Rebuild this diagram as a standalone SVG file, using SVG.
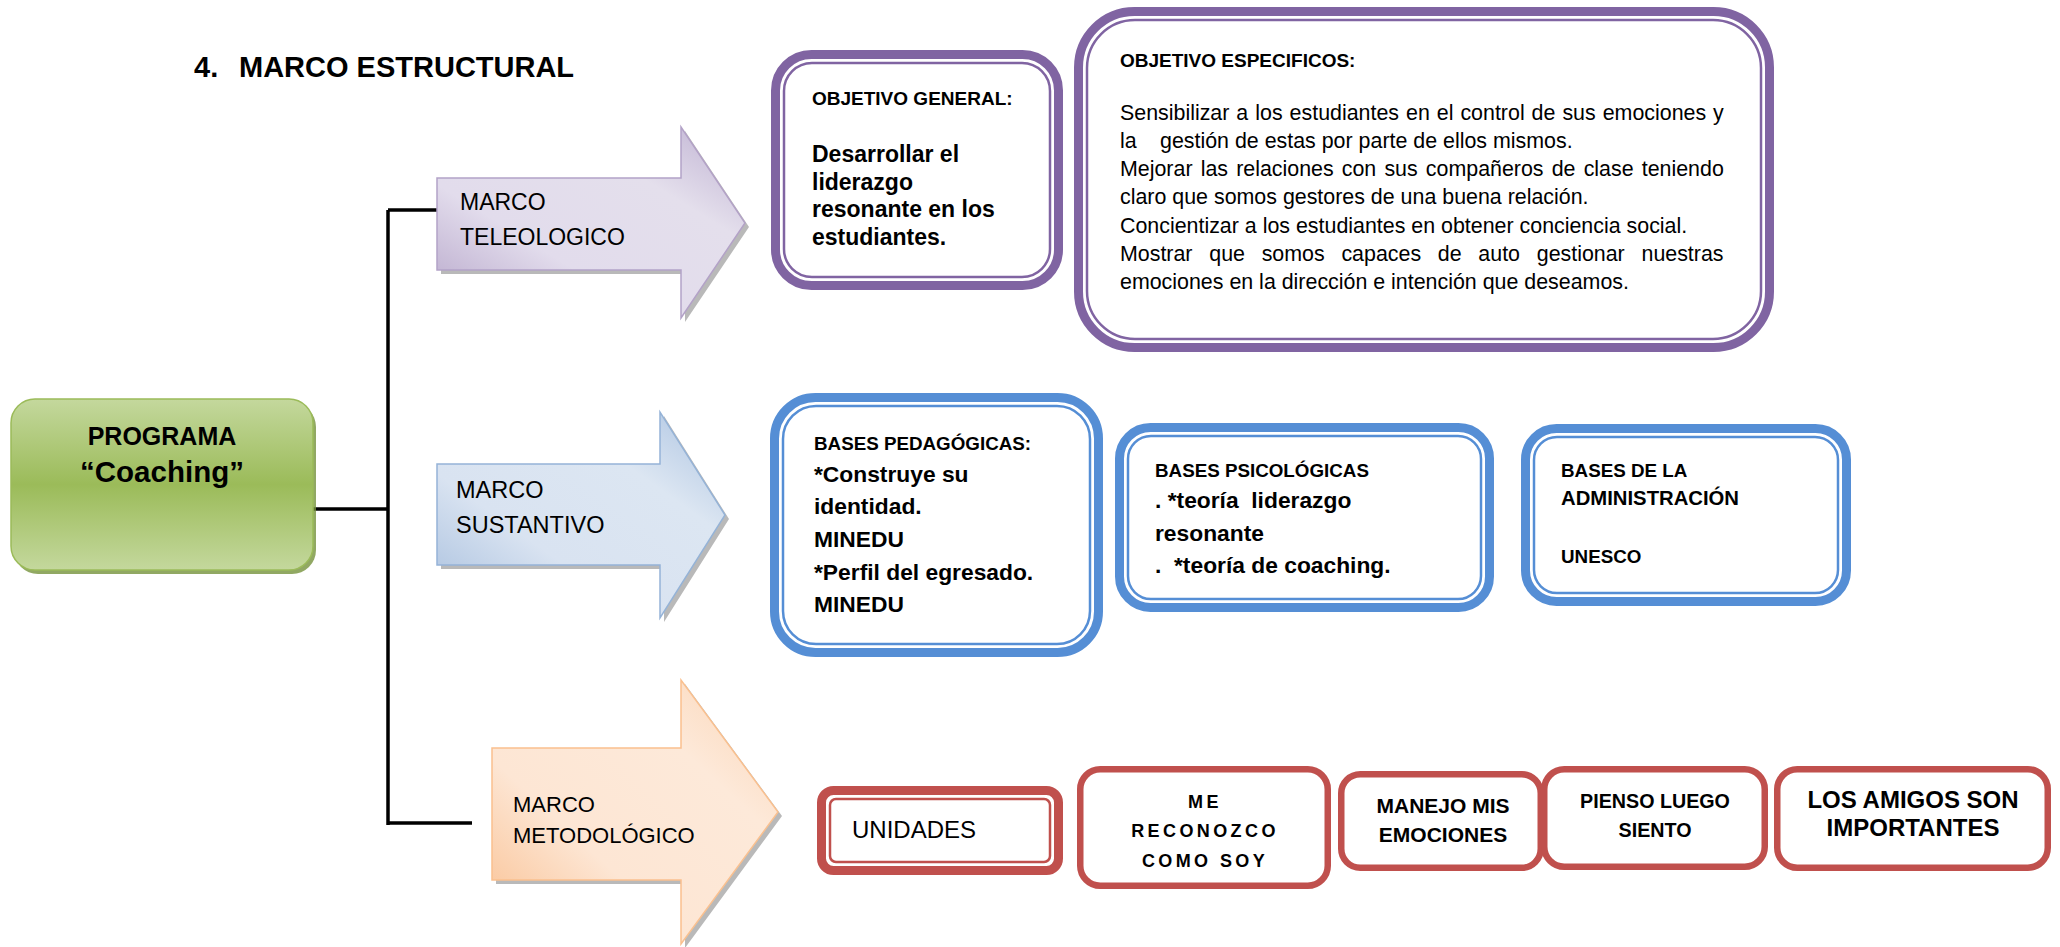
<svg xmlns="http://www.w3.org/2000/svg" width="2060" height="947" viewBox="0 0 2060 947">
<defs>
<linearGradient id="gPurple" x1="0" y1="1" x2="1" y2="0">
<stop offset="0" stop-color="#b3a2c7"/><stop offset="0.35" stop-color="#e2dcec"/><stop offset="0.7" stop-color="#e4dfec"/><stop offset="1" stop-color="#bcaed0"/>
</linearGradient>
<linearGradient id="gBlue" x1="0" y1="1" x2="1" y2="0">
<stop offset="0" stop-color="#a3bcdc"/><stop offset="0.35" stop-color="#d9e3f1"/><stop offset="0.7" stop-color="#dce6f2"/><stop offset="1" stop-color="#a9c1e0"/>
</linearGradient>
<linearGradient id="gOrange" x1="0" y1="1" x2="1" y2="0">
<stop offset="0" stop-color="#f9bd8c"/><stop offset="0.35" stop-color="#fde6d4"/><stop offset="0.7" stop-color="#fde9d9"/><stop offset="1" stop-color="#fbd3b3"/>
</linearGradient>
<linearGradient id="gGreen" x1="0" y1="0" x2="0" y2="1">
<stop offset="0" stop-color="#c4d89d"/><stop offset="0.5" stop-color="#9bbb59"/><stop offset="1" stop-color="#c4d89d"/>
</linearGradient>
<style>
.t{font-family:"Liberation Sans",Arial,sans-serif;fill:#000}
.b{font-weight:bold}
.pO{fill:#fff;stroke:#8064a2;stroke-width:9}
.pI{fill:none;stroke:#8064a2;stroke-width:2.5}
.bO{fill:#fff;stroke:#558ed5;stroke-width:9}
.bI{fill:none;stroke:#558ed5;stroke-width:2.5}
.rO{fill:#fff;stroke:#c0504d;stroke-width:9}
.rI{fill:none;stroke:#c0504d;stroke-width:2.5}
.rS{fill:#fff;stroke:#c0504d;stroke-width:6.5}
.ln{fill:none;stroke:#000;stroke-width:3.5}
.sh{fill:#8a8a8a;opacity:0.6}
</style>
</defs>
<rect width="2060" height="947" fill="#fff"/>

<g id="title">
<text class="t b" x="194" y="77" font-size="29">4.</text>
<text class="t b" x="239" y="77" font-size="29">MARCO ESTRUCTURAL</text>
</g>

<g id="connectors">
<path class="ln" d="M313,509 H388"/>
<path class="ln" d="M388,210 V825"/>
<path class="ln" d="M388,210 H439"/>
<path class="ln" d="M388,823 H472"/>
</g>

<g id="programa">
<rect x="14" y="403" width="302" height="171" rx="24" fill="#76923c" opacity="0.8"/>
<rect x="11" y="399" width="302" height="171" rx="24" fill="url(#gGreen)" stroke="#9bbb59" stroke-width="1.5"/>
<text class="t b" x="162" y="445" font-size="25" text-anchor="middle">PROGRAMA</text>
<text class="t b" x="162" y="482" font-size="29.5" text-anchor="middle">“Coaching”</text>
</g>

<g id="marco-teleologico">
<path class="sh" d="M441,182 H685 V131 L749,227 L685,322 V274 H441 Z"/>
<path d="M437,178 H681 V127 L745,223 L681,318 V270 H437 Z" fill="url(#gPurple)" stroke="#b3a2c7" stroke-width="1.5"/>
<text class="t" x="460" y="210" font-size="23">MARCO</text>
<text class="t" x="460" y="245" font-size="23">TELEOLOGICO</text>
</g>

<g id="marco-sustantivo">
<path class="sh" d="M441,468 H664 V416 L729,519 L664,622 V569 H441 Z"/>
<path d="M437,464 H660 V412 L725,515 L660,618 V565 H437 Z" fill="url(#gBlue)" stroke="#95b3d7" stroke-width="1.5"/>
<text class="t" x="456" y="498" font-size="23.5">MARCO</text>
<text class="t" x="456" y="533" font-size="23.5">SUSTANTIVO</text>
</g>

<g id="marco-metodologico">
<path class="sh" d="M496,752 H685 V684 L782,816 L685,948 V884 H496 Z"/>
<path d="M492,748 H681 V680 L778,812 L681,944 V880 H492 Z" fill="url(#gOrange)" stroke="#fac08f" stroke-width="1.5"/>
<text class="t" x="513" y="812" font-size="22">MARCO</text>
<text class="t" x="513" y="843" font-size="22">METODOLÓGICO</text>
</g>

<g id="objetivo-general">
<rect class="pO" x="775.5" y="54.5" width="283" height="231" rx="36"/>
<rect class="pI" x="784" y="63" width="266" height="214" rx="28"/>
<text class="t b" x="812" y="105" font-size="19">OBJETIVO GENERAL:</text>
<text class="t b" font-size="23"><tspan x="812" y="162">Desarrollar el</tspan><tspan x="812" y="190">liderazgo</tspan><tspan x="812" y="217">resonante en los</tspan><tspan x="812" y="245">estudiantes.</tspan></text>
</g>

<g id="objetivos-especificos">
<rect class="pO" x="1078.5" y="11.5" width="691" height="336" rx="56"/>
<rect class="pI" x="1087" y="20" width="674" height="319" rx="48"/>
<text class="t b" x="1120" y="67" font-size="19">OBJETIVO ESPECIFICOS:</text>
<text class="t" font-size="21.4">
<tspan x="1120" y="120" word-spacing="1.05">Sensibilizar a los estudiantes en el control de sus emociones y</tspan>
<tspan x="1120" y="148">la</tspan><tspan x="1160" y="148">gestión de estas por parte de ellos mismos.</tspan>
<tspan x="1120" y="176" word-spacing="2.2">Mejorar las relaciones con sus compañeros de clase teniendo</tspan>
<tspan x="1120" y="204">claro que somos gestores de una buena relación.</tspan>
<tspan x="1120" y="233">Concientizar a los estudiantes en obtener conciencia social.</tspan>
<tspan x="1120" y="261" word-spacing="10.8">Mostrar que somos capaces de auto gestionar nuestras</tspan>
<tspan x="1120" y="289">emociones en la dirección e intención que deseamos.</tspan>
</text>
</g>

<g id="bases-pedagogicas">
<rect class="bO" x="774.5" y="397.5" width="324" height="255" rx="41"/>
<rect class="bI" x="783" y="406" width="307" height="238" rx="33"/>
<text class="t b" x="814" y="450" font-size="18.8">BASES PEDAGÓGICAS:</text>
<text class="t b" font-size="22.8"><tspan x="814" y="482">*Construye su</tspan><tspan x="814" y="514">identidad.</tspan><tspan x="814" y="547">MINEDU</tspan><tspan x="814" y="580">*Perfil del egresado.</tspan><tspan x="814" y="612">MINEDU</tspan></text>
</g>

<g id="bases-psicologicas">
<rect class="bO" x="1119.5" y="427.5" width="370" height="180" rx="31"/>
<rect class="bI" x="1128" y="436" width="353" height="163" rx="23"/>
<text class="t b" x="1155" y="477" font-size="18.8">BASES PSICOLÓGICAS</text>
<text class="t b" font-size="22.8" xml:space="preserve"><tspan x="1155" y="508">. *teoría  liderazgo</tspan><tspan x="1155" y="541">resonante</tspan><tspan x="1155" y="573">.  *teoría de coaching.</tspan></text>
</g>

<g id="bases-administracion">
<rect class="bO" x="1525.5" y="428.5" width="321" height="173" rx="31"/>
<rect class="bI" x="1534" y="437" width="304" height="156" rx="23"/>
<text class="t b" font-size="18.8"><tspan x="1561" y="477">BASES DE LA</tspan><tspan x="1561" y="505" font-size="20.3">ADMINISTRACIÓN</tspan><tspan x="1561" y="563">UNESCO</tspan></text>
</g>

<g id="unidades">
<rect class="rO" x="821.5" y="790.5" width="237" height="80" rx="12"/>
<rect class="rI" x="830" y="799" width="220" height="63" rx="6"/>
<text class="t" x="852" y="838" font-size="24">UNIDADES</text>
</g>

<g id="me-reconozco">
<rect class="rS" x="1080.25" y="769.25" width="247.5" height="116.5" rx="20"/>
<text class="t b" font-size="18" letter-spacing="3.4" text-anchor="middle"><tspan x="1205" y="808">ME</tspan><tspan x="1205" y="837">RECONOZCO</tspan><tspan x="1205" y="867">COMO SOY</tspan></text>
</g>

<g id="manejo">
<rect class="rS" x="1341.25" y="774.25" width="199.5" height="93.5" rx="19"/>
<text class="t b" font-size="21" text-anchor="middle"><tspan x="1443" y="813">MANEJO MIS</tspan><tspan x="1443" y="842">EMOCIONES</tspan></text>
</g>

<g id="pienso">
<rect class="rS" x="1544.25" y="769.25" width="220.5" height="97.5" rx="20"/>
<text class="t b" font-size="19.7" text-anchor="middle"><tspan x="1655" y="808">PIENSO LUEGO</tspan><tspan x="1655" y="837">SIENTO</tspan></text>
</g>

<g id="amigos">
<rect class="rS" x="1777.25" y="769.25" width="270.5" height="98.5" rx="20"/>
<text class="t b" font-size="24" text-anchor="middle"><tspan x="1913" y="808">LOS AMIGOS SON</tspan><tspan x="1913" y="836">IMPORTANTES</tspan></text>
</g>
</svg>
